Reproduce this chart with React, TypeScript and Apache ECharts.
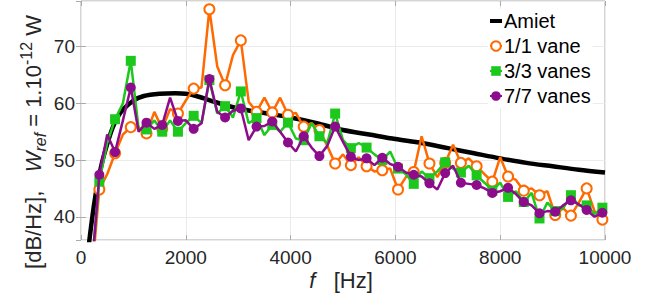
import React, { useEffect, useRef } from "react";
import * as echarts from "echarts";

const FONT = '"Liberation Sans", Arial, Helvetica, sans-serif';

const freq = [200, 350, 500, 650, 800, 950, 1100, 1250, 1400, 1550, 1700, 1850, 2000, 2150, 2300, 2450, 2600, 2750, 2900, 3050, 3200, 3350, 3500, 3650, 3800, 3950, 4100, 4250, 4400, 4550, 4700, 4850, 5000, 5150, 5300, 5450, 5600, 5750, 5900, 6050, 6200, 6350, 6500, 6650, 6800, 6950, 7100, 7250, 7400, 7550, 7700, 7850, 8000, 8150, 8300, 8450, 8600, 8750, 8900, 9050, 9200, 9350, 9500, 9650, 9800, 9950];

const vane1 = [29, 44.8, 47.5, 51.2, 54.5, 55.8, 55.8, 54.7, 58.5, 55.5, 59, 58.2, 60.5, 62.6, 62.8, 76.6, 66.5, 63.2, 68.5, 71.1, 60.3, 58.5, 61, 58.4, 61, 58.0, 58.3, 55.9, 56.5, 55.3, 52.5, 49.4, 51, 49.1, 50.5, 48.9, 48, 48.2, 48.5, 44.8, 47, 47.9, 54.2, 49.4, 47, 49.5, 52.7, 49.5, 50.3, 48.9, 47.5, 46.2, 50.5, 47.1, 46.5, 44.6, 45, 43.8, 44.5, 40.3, 41.5, 40.2, 42.5, 45.0, 41, 39.5];

const vanes3 = [31, 46.2, 53, 57.2, 60, 67.5, 55.5, 55.4, 57, 55.0, 57, 55.0, 56.5, 57.8, 56.5, 64.1, 58.2, 59.5, 57.5, 62.1, 56.5, 57.4, 54.4, 56.2, 55, 56.6, 53.8, 53.5, 56.5, 54.2, 53, 58.2, 53.5, 52.1, 53, 52.2, 51, 50.0, 51.5, 48.5, 47.5, 45.8, 48, 46.8, 48, 49.6, 48.5, 47.8, 49, 47.3, 46, 44.6, 46, 43.5, 44.5, 42.6, 44.2, 39.7, 42.5, 41, 41.5, 43.8, 42, 42, 40.5, 41.6];

const vanes7 = [30, 47.4, 54.5, 51.4, 57, 62.8, 55, 56.6, 55.5, 56.2, 61, 56.9, 57, 55.5, 56.5, 64.3, 58.5, 57.5, 58.7, 59.1, 53.5, 55.9, 56, 56.8, 55, 53.1, 51.5, 54.2, 52.2, 50.7, 52.5, 55.9, 53.2, 50.6, 50, 50.3, 49.1, 50.4, 49.3, 48.8, 47.8, 47.4, 47.1, 45.9, 44.8, 47.7, 49, 46, 45.8, 45.6, 45, 44.2, 44.5, 45.1, 44, 42.6, 42, 40.6, 41, 40.9, 42, 42.9, 42.2, 41.2, 40, 40.7];

const amietF = [120, 150, 200, 250, 300, 400, 500, 600, 700, 800, 1000, 1200, 1500, 1800, 2000, 2200, 2500, 3000, 3500, 4000, 4500, 5000, 5500, 6000, 6500, 7000, 7500, 8000, 8500, 9000, 9500, 10000];
const amietDb = [31, 35, 38.8, 42.2, 45, 49.5, 52.8, 55.6, 57.6, 58.9, 60.5, 61.3, 61.7, 61.8, 61.7, 61.3, 60.4, 59.1, 58.3, 57.5, 56.5, 55.3, 54.5, 53.7, 53.0, 52.1, 51.2, 50.3, 49.5, 48.9, 48.3, 47.8];

const xTicks = { min: 0, max: 10000, interval: 2000 };
const yRange = { min: 35.9, max: 78.05 };

const seriesNames = ["Amiet", "1/1 vane", "3/3 vanes", "7/7 vanes"];

function markedData(vals: number[]) {
  return freq.map((f, i) =>
    i % 2 === 1 ? { value: [f, vals[i]] } : { value: [f, vals[i]], symbol: "none" }
  );
}

export default function App() {
  const ref = useRef<HTMLDivElement>(null);
  useEffect(() => {
    if (!ref.current) return;
    const chart = echarts.init(ref.current, undefined, { renderer: "svg" });
    const frame = "#ababab";
    const tickStyle = { show: true, inside: true, length: 5, lineStyle: { color: frame } };
    chart.setOption({
      animation: false,
      backgroundColor: "#ffffff",
      grid: {
        left: 81,
        right: 55,
        top: 1,
        bottom: 60,
        show: true,
        borderColor: frame,
        borderWidth: 1,
        backgroundColor: "transparent",
      },
      xAxis: [
        {
          type: "value",
          ...xTicks,
          axisLine: { show: false },
          axisTick: tickStyle,
          axisLabel: {
            fontSize: 19,
            color: "#262626",
            fontFamily: FONT,
            margin: 8,
            formatter: (v: number) => String(v),
          },
          splitLine: { show: true, lineStyle: { color: "#ebebeb", width: 1 } },
        },
        {
          type: "value",
          position: "top",
          ...xTicks,
          axisLine: { show: false },
          axisTick: tickStyle,
          axisLabel: { show: false },
          splitLine: { show: false },
        },
      ],
      yAxis: [
        {
          type: "value",
          ...yRange,
          axisLine: { show: false },
          axisTick: tickStyle,
          axisLabel: {
            fontSize: 19,
            color: "#262626",
            fontFamily: FONT,
            margin: 6,
            showMinLabel: false,
            showMaxLabel: false,
            formatter: (v: number) => String(v),
          },
          splitLine: { show: true, lineStyle: { color: "#ebebeb", width: 1 } },
        },
        {
          type: "value",
          position: "right",
          ...yRange,
          axisLine: { show: false },
          axisTick: tickStyle,
          axisLabel: { show: false },
          splitLine: { show: false },
        },
      ],
      legend: {
        orient: "vertical",
        left: 488,
        top: 9,
        padding: [2, 2, 2, 1],
        backgroundColor: "#ffffff",
        itemWidth: 12,
        itemHeight: 12,
        itemGap: 5,
        textStyle: { fontSize: 20, fontFamily: FONT, color: "#000", lineHeight: 20, padding: [0, 0, 0, -3] },
        data: [
          { name: seriesNames[0], icon: "path://M0 0h12v4H0z" },
          seriesNames[1],
          seriesNames[2],
          seriesNames[3],
        ],
      },
      graphic: [
        {
          type: "text",
          x: 33,
          y: 142,
          rotation: Math.PI / 2,
          style: {
            text: "{n|[dB/Hz],   }{i|W}{s|ref}{n| = 1.10}{p|-12}{n| W}",
            align: "center",
            verticalAlign: "middle",
            fill: "#262626",
            rich: {
              n: { fontSize: 22, fontFamily: FONT, fill: "#262626", lineHeight: 30 },
              i: { fontSize: 22, fontFamily: FONT, fontStyle: "italic", fill: "#262626", lineHeight: 30 },
              s: { fontSize: 16, fontFamily: FONT, fontStyle: "italic", fill: "#262626", lineHeight: 16, verticalAlign: "bottom" },
              p: { fontSize: 16, fontFamily: FONT, fill: "#262626", lineHeight: 16, verticalAlign: "top" },
            },
          },
        },
        {
          type: "text",
          x: 341,
          y: 280,
          style: {
            text: "{i|f}{n|   [Hz]}",
            align: "center",
            verticalAlign: "middle",
            fill: "#262626",
            rich: {
              n: { fontSize: 22, fontFamily: FONT, fill: "#262626" },
              i: { fontSize: 22, fontFamily: FONT, fontStyle: "italic", fill: "#262626" },
            },
          },
        },
      ],
      series: [
        {
          name: seriesNames[0],
          type: "line",
          data: amietF.map((f, i) => [f, amietDb[i]]),
          smooth: 0.3,
          symbol: "none",
          clip: true,
          lineStyle: { color: "#000000", width: 4.5 },
          itemStyle: { color: "#000000" },
          z: 2,
        },
        {
          name: seriesNames[1],
          type: "line",
          data: markedData(vane1),
          symbol: "emptyCircle",
          symbolSize: 10,
          showAllSymbol: true,
          clip: true,
          lineStyle: { color: "#FF6A00", width: 2.5 },
          itemStyle: { color: "#FF6A00", borderWidth: 2 },
          z: 3,
        },
        {
          name: seriesNames[2],
          type: "line",
          data: markedData(vanes3),
          symbol: "rect",
          symbolSize: 10,
          showAllSymbol: true,
          clip: true,
          lineStyle: { color: "#1DC81D", width: 2.5 },
          itemStyle: { color: "#1DC81D" },
          z: 4,
        },
        {
          name: seriesNames[3],
          type: "line",
          data: markedData(vanes7),
          symbol: "circle",
          symbolSize: 10,
          showAllSymbol: true,
          clip: true,
          lineStyle: { color: "#8C0C8C", width: 2.5 },
          itemStyle: { color: "#8C0C8C" },
          z: 5,
        },
      ],
    });
    return () => chart.dispose();
  }, []);
  return (
    <div
      ref={ref}
      style={{ position: "absolute", left: 0, top: 0, width: 660, height: 300 }}
    />
  );
}
